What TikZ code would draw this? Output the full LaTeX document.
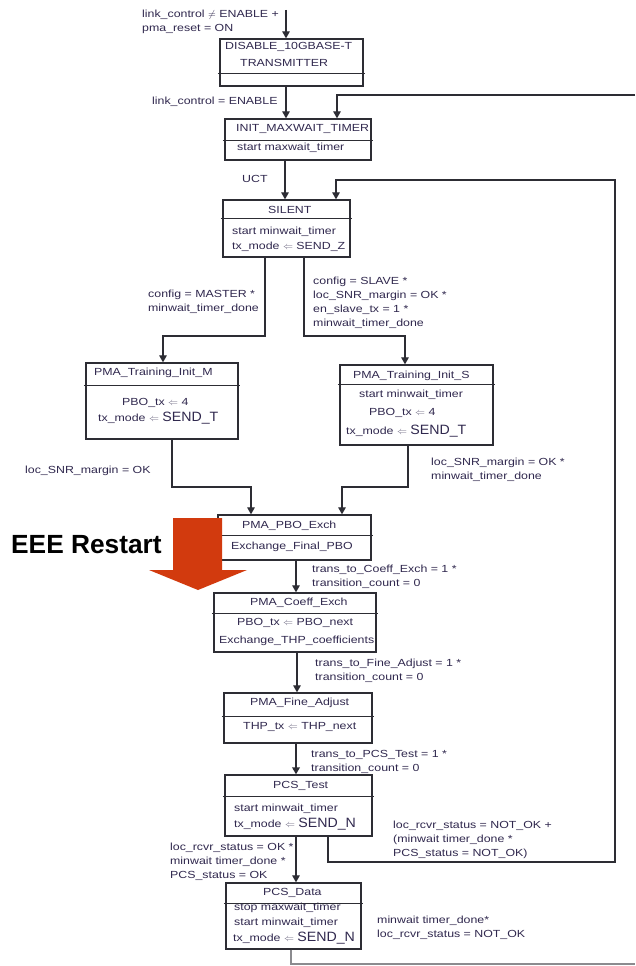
\documentclass[tikz,border=0pt]{standalone}
\usepackage{fontspec}
\usetikzlibrary{arrows.meta}

% fonts: a slightly widened sans for the state texts, a plain one for the big assignments
\newfontfamily\labfont[FakeStretch=1.2]{Liberation Sans}
\newfontfamily\sendfont[FakeStretch=1.05]{Liberation Sans}
\newfontfamily\headfont{Liberation Sans}

\definecolor{ink}{RGB}{48,40,78}
\definecolor{wire}{RGB}{45,45,52}
\definecolor{restart}{RGB}{210,58,14}

\tikzset{
  lab/.style={font=\labfont\fontsize{10.3}{14}\selectfont, text=ink, inner sep=0pt, align=left, anchor=west},
  box/.style={draw=wire, line width=1.3pt, rectangle, inner sep=0pt},
  sep/.style={draw=wire, line width=1.0pt, shorten <=-1.5pt, shorten >=-1.5pt},
  wireline/.style={draw=wire, line width=1.2pt},
  arr/.style={wireline, -{Triangle[length=7pt,width=7.5pt]}},
}

% state box from its corner coordinates (x1,y1) to (x2,y2)
\newcommand\statebox[5]{%
  \node[box, minimum width={#4-#2}, minimum height={#5-#3}] (#1) at ({(#2+#4)/2},{(#3+#5)/2}) {};}
% horizontal rule across a state box at height y
\newcommand\rulebox[2]{\draw[sep] (#1.west |- 0,#2) -- (#1.east |- 0,#2);}
\newcommand\assignto{\textcolor{ink!70}{$\Leftarrow$}}
\newcommand\bigsend[1]{{\sendfont\fontsize{13.5}{14}\selectfont #1}}

\begin{document}
\begin{tikzpicture}[x=1pt,y=-1pt]
\useasboundingbox (0,0) rectangle (635,966);
\fill[white] (0,0) rectangle (635,966);

% ---------------- states ----------------
\statebox{disable}{220}{39}{363}{86}
\rulebox{disable}{73}
\node[lab] (disT1) at (225,47) {DISABLE\_10GBASE-T};
\node[lab] (disT2) at (240,63) {TRANSMITTER};

\statebox{init}{225}{119}{371}{160}
\rulebox{init}{140}
\node[lab] (initT) at (236,129) {INIT\_MAXWAIT\_TIMER};
\node[lab] (initA) at (237,148) {start maxwait\_timer};

\statebox{silent}{223}{200}{350}{257}
\rulebox{silent}{218}
\node[lab] (silT) at (268,210) {SILENT};
\node[lab] (silA) at (232,232) {start minwait\_timer};
\node[lab] (silB) at (232,247) {tx\_mode \assignto{} SEND\_Z};

\statebox{trm}{86}{363}{238}{439}
\rulebox{trm}{385}
\node[lab] (trmT) at (94,373) {PMA\_Training\_Init\_M};
\node[lab] (trmA) at (122,403) {PBO\_tx \assignto{} 4};
\node[lab] (trmB) at (98,418) {tx\_mode \assignto{} \bigsend{SEND\_T}};

\statebox{trs}{340}{365}{493}{445}
\rulebox{trs}{384}
\node[lab] (trsT) at (353,376) {PMA\_Training\_Init\_S};
\node[lab] (trsA) at (359,395) {start minwait\_timer};
\node[lab] (trsB) at (369,413) {PBO\_tx \assignto{} 4};
\node[lab] (trsC) at (346,431) {tx\_mode \assignto{} \bigsend{SEND\_T}};

\statebox{pbo}{218}{515}{371}{560}
\rulebox{pbo}{535}
\node[lab] (pboT) at (242,526) {PMA\_PBO\_Exch};
\node[lab] (pboA) at (231,547) {Exchange\_Final\_PBO};

\statebox{coeff}{214}{593}{376}{652}
\rulebox{coeff}{613}
\node[lab] (coeT) at (250,603) {PMA\_Coeff\_Exch};
\node[lab] (coeA) at (237,623) {PBO\_tx \assignto{} PBO\_next};
\node[lab] (coeB) at (219,641) {Exchange\_THP\_coefficients};

\statebox{fine}{224}{693}{372}{743}
\rulebox{fine}{716}
\node[lab] (finT) at (250,703) {PMA\_Fine\_Adjust};
\node[lab] (finA) at (243,727) {THP\_tx \assignto{} THP\_next};

\statebox{test}{225}{775}{372}{836}
\rulebox{test}{796}
\node[lab] (tesT) at (273,786) {PCS\_Test};
\node[lab] (tesA) at (234,809) {start minwait\_timer};
\node[lab] (tesB) at (234,824) {tx\_mode \assignto{} \bigsend{SEND\_N}};

\statebox{data}{226}{883}{361}{949}
\rulebox{data}{903}
\node[lab] (datT) at (263,893) {PCS\_Data};
\node[lab] (datA) at (234,908) {stop maxwait\_timer};
\node[lab] (datB) at (234,923) {start minwait\_timer};
\node[lab] (datC) at (233,938) {tx\_mode \assignto{} \bigsend{SEND\_N}};

% ---------------- free ends of connectors ----------------
\coordinate (entry) at (286,10);
\coordinate (reentry) at (635,95);
\coordinate (tail) at (635,964);

% ---------------- transitions ----------------
\draw[arr] (entry) -- (disable.north -| entry);
\draw[arr] (disable.south -| 286,0) -- (init.north -| 286,0);
\draw[arr] (reentry) -- (337,95) -- (init.north -| 337,0);
\draw[arr] (init.south -| 285,0) -- (silent.north -| 285,0);

\draw[arr] (silent.south -| 265,0) -- (265,336) -- (163,336) -- (trm.north -| 163,0);
\draw[arr] (silent.south -| 304,0) -- (304,336) -- (405,336) -- (trs.north -| 405,0);

\draw[arr] (trm.south -| 172,0) -- (172,487) -- (251,487) -- (pbo.north -| 251,0);
\draw[arr] (trs.south -| 408,0) -- (408,487) -- (342,487) -- (pbo.north -| 342,0);

\draw[arr] (pbo.south -| 296,0) -- (coeff.north -| 296,0);
\draw[arr] (coeff.south -| 297,0) -- (fine.north -| 297,0);
\draw[arr, line width=2.6pt] (fine.south -| 296,0) -- (test.north -| 296,0);
\draw[arr] (test.south -| 296,0) -- (data.north -| 296,0);

% back to SILENT when the receiver is not ready
\draw[arr] (test.south -| 328,0) -- (328,862) -- (615,862) -- (615,180) -- (336,180) -- (silent.north -| 336,0);

% leaving PCS_Data
\draw[wireline, draw=wire!55] (data.south -| 291,0) -- (291,964) -- (tail);

% ---------------- transition conditions ----------------
\node[lab] (cEntry) at (142,22) {link\_control $\neq$ ENABLE +\\pma\_reset = ON};
\node[lab] (cEnable) at (152,102) {link\_control = ENABLE};
\node[lab] (cUCT) at (242,179) {UCT};
\node[lab] (cMaster) at (148,301.5) {config = MASTER *\\minwait\_timer\_done};
\node[lab] (cSlave) at (313,302.5) {config = SLAVE *\\loc\_SNR\_margin = OK *\\en\_slave\_tx = 1 *\\minwait\_timer\_done};
\node[lab] (cSnrM) at (25,471) {loc\_SNR\_margin = OK};
\node[lab] (cSnrS) at (431,470) {loc\_SNR\_margin = OK *\\minwait\_timer\_done};
\node[lab] (cCoeff) at (312,577) {trans\_to\_Coeff\_Exch = 1 *\\transition\_count = 0};
\node[lab] (cFine) at (315,671) {trans\_to\_Fine\_Adjust = 1 *\\transition\_count = 0};
\node[lab] (cTest) at (311,762) {trans\_to\_PCS\_Test = 1 *\\transition\_count = 0};
\node[lab] (cNotOk) at (393,840) {loc\_rcvr\_status = NOT\_OK +\\(minwait timer\_done *\\PCS\_status = NOT\_OK)};
\node[lab] (cOk) at (170,861.5) {loc\_rcvr\_status = OK *\\minwait timer\_done *\\PCS\_status = OK};
\node[lab] (cData) at (377,928) {minwait timer\_done*\\loc\_rcvr\_status = NOT\_OK};

% ---------------- EEE restart marker ----------------
\fill[restart] (173,518) -- (222,518) -- (222,570) -- (247,570) -- (198,590)
  -- (149,570) -- (173,570) -- cycle;
\node[font=\headfont\bfseries\fontsize{26.3}{28}\selectfont, text=black, inner sep=0pt, anchor=west]
  (restartLabel) at (11,545) {EEE Restart};

\end{tikzpicture}
\end{document}
